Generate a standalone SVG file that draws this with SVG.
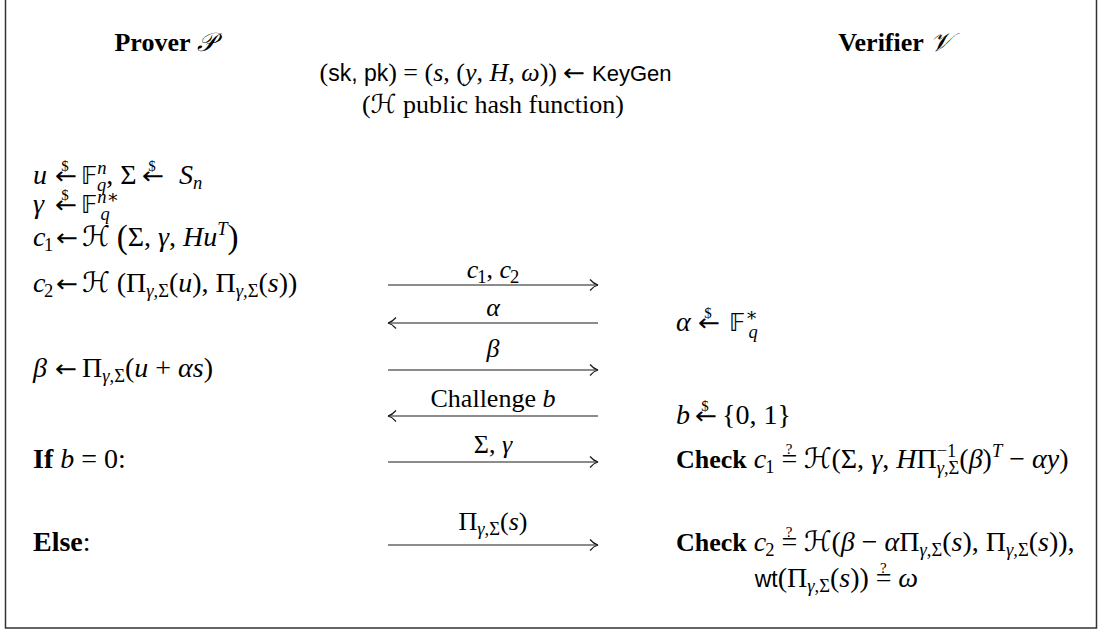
<svg xmlns="http://www.w3.org/2000/svg" width="1110" height="633" viewBox="0 0 1110 633">
<style>
.m{font-family:"Liberation Serif","DejaVu Serif",serif;font-size:28px;fill:#000}
.h{font-size:26px}
.it{font-style:italic}
.bf{font-weight:bold}
.sf{font-family:"Liberation Sans","DejaVu Sans",sans-serif;font-size:23px}
.sub{font-size:18.5px}
.ov{font-family:"Liberation Serif","DejaVu Serif",serif;font-size:15px;fill:#000}
.ar{font-family:"DejaVu Sans",sans-serif;font-size:24px;fill:#000}
.bb{font-family:"DejaVu Sans","Noto Sans",sans-serif;font-size:24px;font-style:normal}
.cal{font-family:"DejaVu Serif","DejaVu Sans","Noto Sans",serif;font-style:italic}
.big{font-size:33px}
.arr{stroke:#1a1a1a;stroke-width:1.2;fill:none}
</style>
<defs>
<marker id="head" viewBox="-10 -7 12 14" refX="0" refY="0" markerWidth="12" markerHeight="14" markerUnits="userSpaceOnUse" orient="auto" overflow="visible">
<path d="M-8,-5.5 C-5,-2 -2,-0.5 0,0 C-2,0.5 -5,2 -8,5.5" fill="none" stroke="#1a1a1a" stroke-width="1.2"/>
</marker>
</defs>
<rect width="1110" height="633" fill="#fff"/>
<path d="M5.5,0 V628 H1096.5 V0" fill="none" stroke="#333" stroke-width="1.5"/>

<g id="prover-header"><text class="m h" x="165" y="51" text-anchor="middle"><tspan class="bf">Prover </tspan><tspan class="cal">𝒫</tspan></text></g>
<g id="verifier-header"><text class="m h" x="895" y="51" text-anchor="middle"><tspan class="bf">Verifier </tspan><tspan class="cal">𝒱</tspan></text></g>

<g id="setup">
<text class="m h" x="557" y="81" text-anchor="end">(<tspan class="sf">sk, pk</tspan>) = (<tspan class="it">s</tspan>, (<tspan class="it">y</tspan>, <tspan class="it">H</tspan>, <tspan class="it">ω</tspan>))</text>
<text class="ar" transform="translate(563,81) scale(1.1,1)">←</text>
<text class="sf" x="592" y="81" style="font-size:22px">KeyGen</text>
<text class="m h" x="493" y="113" text-anchor="middle">(<tspan class="cal">ℋ</tspan> public hash function)</text>
</g>

<g id="prover-steps">
<g id="p-u">
<text class="m it" x="33" y="184">u</text>
<text class="ar" transform="translate(55,184) scale(1.1,1)">←</text>
<text class="ov" x="65" y="171" text-anchor="middle">$</text>
<text class="m" x="81" y="184"><tspan class="bb">𝔽</tspan><tspan class="sub it" dy="-10">n</tspan><tspan class="sub it" dx="-9.3" dy="17">q</tspan><tspan dy="-7">, Σ</tspan></text>
<text class="ar" transform="translate(142,184) scale(1.1,1)">←</text>
<text class="ov" x="152" y="171" text-anchor="middle">$</text>
<text class="m it" x="179" y="184">S<tspan class="sub" dy="5">n</tspan></text>
</g>
<g id="p-gamma">
<text class="m it" x="33" y="213">γ</text>
<text class="ar" transform="translate(55,213) scale(1.1,1)">←</text>
<text class="ov" x="65" y="200" text-anchor="middle">$</text>
<text class="m" x="81" y="213"><tspan class="bb">𝔽</tspan><tspan class="sub" dy="-10"><tspan class="it">n</tspan>∗</tspan><tspan class="sub it" dx="-18.5" dy="17">q</tspan></text>
</g>
<g id="p-c1">
<text class="m" x="33" y="246"><tspan class="it">c</tspan><tspan class="sub" dx="-1.5" dy="5">1</tspan></text>
<text class="ar" transform="translate(56,246) scale(1.1,1)">←</text>
<text class="m" x="82" y="246"><tspan class="cal">ℋ</tspan> <tspan class="big" dy="2">(</tspan><tspan dy="-2">Σ, </tspan><tspan class="it">γ</tspan>, <tspan class="it">Hu</tspan><tspan class="sub it" dy="-11">T</tspan><tspan class="big" dy="13">)</tspan></text>
</g>
<g id="p-c2">
<text class="m" x="33" y="292"><tspan class="it">c</tspan><tspan class="sub" dx="-1.5" dy="5">2</tspan></text>
<text class="ar" transform="translate(56,292) scale(1.1,1)">←</text>
<text class="m" x="82" y="292"><tspan class="cal">ℋ</tspan> (Π<tspan class="sub" dy="5"><tspan class="it">γ</tspan>,Σ</tspan><tspan dy="-5">(</tspan><tspan class="it">u</tspan>), Π<tspan class="sub" dy="5"><tspan class="it">γ</tspan>,Σ</tspan><tspan dy="-5">(</tspan><tspan class="it">s</tspan>))</text>
</g>
<g id="p-beta">
<text class="m it" x="33" y="377">β</text>
<text class="ar" transform="translate(55,377) scale(1.1,1)">←</text>
<text class="m" x="82" y="377">Π<tspan class="sub" dy="5"><tspan class="it">γ</tspan>,Σ</tspan><tspan dy="-5">(</tspan><tspan class="it">u</tspan> + <tspan class="it">αs</tspan>)</text>
</g>
<g id="p-if">
<text class="m" x="33" y="468"><tspan class="bf">If</tspan>  <tspan class="it">b</tspan> = 0:</text>
</g>
<g id="p-else">
<text class="m" x="33" y="551"><tspan class="bf">Else</tspan>:</text>
</g>
</g>

<g id="verifier-steps">
<g id="v-alpha">
<text class="m it" x="676" y="331">α</text>
<text class="ar" transform="translate(698,331) scale(1.1,1)">←</text>
<text class="ov" x="708" y="318" text-anchor="middle">$</text>
<text class="m" x="729" y="331"><tspan class="bb">𝔽</tspan><tspan class="sub" dy="-10">∗</tspan><tspan class="sub it" dx="-9.3" dy="17">q</tspan></text>
</g>
<g id="v-b">
<text class="m it" x="676" y="424">b</text>
<text class="ar" transform="translate(695,424) scale(1.1,1)">←</text>
<text class="ov" x="705" y="411" text-anchor="middle">$</text>
<text class="m" x="722" y="424">{0, 1}</text>
</g>
<g id="v-check1">
<text class="m" x="676" y="468"><tspan class="bf h">Check</tspan> <tspan class="it">c</tspan><tspan class="sub" dx="-1" dy="5">1</tspan><tspan dy="-5"> =</tspan><tspan class="ov" dx="-11.6" dy="-14">?</tspan><tspan dx="4.5" dy="14"> </tspan><tspan class="cal">ℋ</tspan>(Σ, <tspan class="it">γ</tspan>, <tspan class="it">H</tspan>Π<tspan class="sub" dy="-11">−1</tspan><tspan class="sub" dx="-19.7" dy="17"><tspan class="it">γ</tspan>,Σ</tspan><tspan dy="-6">(</tspan><tspan class="it">β</tspan>)<tspan class="sub it" dy="-11">T</tspan><tspan dy="11"> − </tspan><tspan class="it">αy</tspan>)</text>
</g>
<g id="v-check2">
<text class="m" x="676" y="551"><tspan class="bf h">Check</tspan> <tspan class="it">c</tspan><tspan class="sub" dx="-1" dy="5">2</tspan><tspan dy="-5"> =</tspan><tspan class="ov" dx="-11.6" dy="-14">?</tspan><tspan dx="4.5" dy="14"> </tspan><tspan class="cal">ℋ</tspan>(<tspan class="it">β</tspan> − <tspan class="it">α</tspan>Π<tspan class="sub" dy="5"><tspan class="it">γ</tspan>,Σ</tspan><tspan dy="-5">(</tspan><tspan class="it">s</tspan>), Π<tspan class="sub" dy="5"><tspan class="it">γ</tspan>,Σ</tspan><tspan dy="-5">(</tspan><tspan class="it">s</tspan>)),</text>
<text class="m" x="918" y="587" text-anchor="end"><tspan class="sf">wt</tspan>(Π<tspan class="sub" dy="5"><tspan class="it">γ</tspan>,Σ</tspan><tspan dy="-5">(</tspan><tspan class="it">s</tspan>)) =<tspan class="ov" dx="-11.6" dy="-14">?</tspan><tspan dx="4.5" dy="14"> </tspan><tspan class="it">ω</tspan></text>
</g>
</g>

<g id="connectors">
<line class="arr" x1="388" y1="285" x2="598" y2="285" marker-end="url(#head)"/>
<text class="m h" x="493" y="278" text-anchor="middle"><tspan class="it">c</tspan><tspan class="sub" dx="-1" dy="5">1</tspan><tspan dy="-5">, </tspan><tspan class="it">c</tspan><tspan class="sub" dx="-1" dy="5">2</tspan></text>
<line class="arr" x1="598" y1="323" x2="388" y2="323" marker-end="url(#head)"/>
<text class="m h it" x="493" y="316" text-anchor="middle">α</text>
<line class="arr" x1="388" y1="370" x2="598" y2="370" marker-end="url(#head)"/>
<text class="m h it" x="493" y="357" text-anchor="middle">β</text>
<line class="arr" x1="598" y1="416" x2="388" y2="416" marker-end="url(#head)"/>
<text class="m h" x="493" y="407" text-anchor="middle">Challenge <tspan class="it">b</tspan></text>
<line class="arr" x1="388" y1="462" x2="598" y2="462" marker-end="url(#head)"/>
<text class="m h" x="493" y="453" text-anchor="middle">Σ, <tspan class="it">γ</tspan></text>
<line class="arr" x1="388" y1="545" x2="598" y2="545" marker-end="url(#head)"/>
<text class="m h" x="493" y="530" text-anchor="middle">Π<tspan class="sub" dy="5"><tspan class="it">γ</tspan>,Σ</tspan><tspan dy="-5">(</tspan><tspan class="it">s</tspan>)</text>
</g>
</svg>
